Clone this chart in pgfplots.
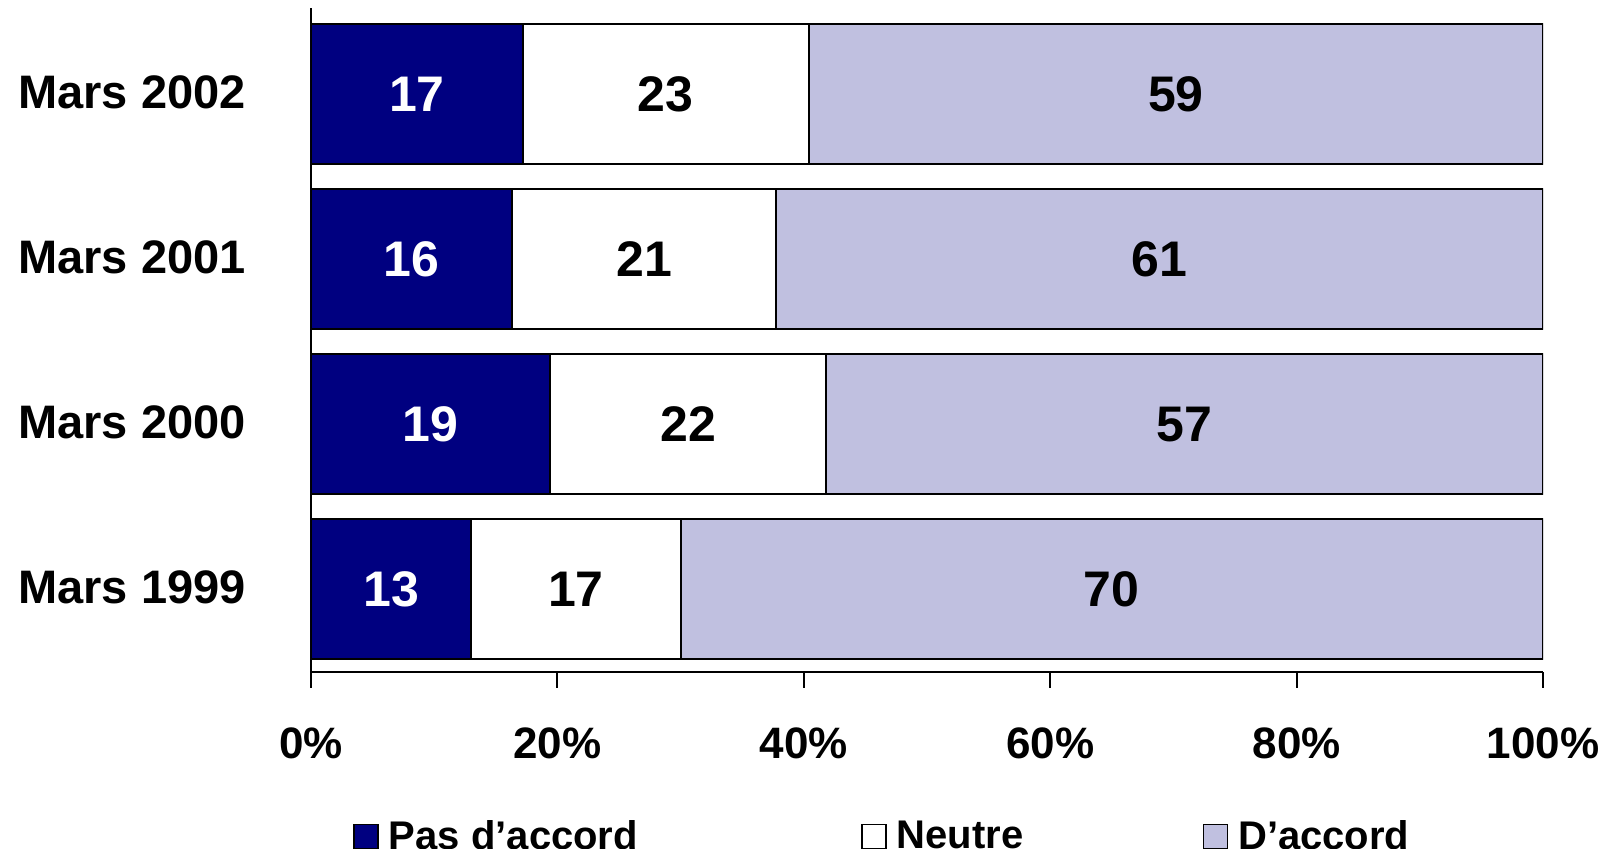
\documentclass[border=0pt]{standalone}
\usepackage{pgfplots}
\pgfplotsset{compat=1.18}
\usepackage{fontspec}
\setmainfont{Liberation Sans}
\definecolor{navybar}{RGB}{0,0,128}
\definecolor{lav}{RGB}{192,192,224}
\begin{document}
\begin{tikzpicture}
\begin{axis}[
  name=ax,
  scale only axis,
  width=616pt, height=332pt,
  xbar stacked,
  bar width=70pt,
  xmin=0, xmax=100,
  ymin=-0.5, ymax=3.52,
  axis x line*=bottom,
  axis y line*=left,
  axis line style={line width=1pt},
  xtick={0,20,40,60,80,100},
  xticklabel={\pgfmathprintnumber{\tick}\%},
  /pgf/number format/assume math mode=true,
  xticklabel style={font=\fontsize{22}{26}\selectfont\bfseries, yshift=-16.5pt},
  xtick style={black, line width=1pt},
  tick align=outside,
  major tick length=8pt,
  ytick={0,1,2,3},
  yticklabels={Mars 1999, Mars 2000, Mars 2001, Mars 2002},
  ytick style={draw=none},
  yticklabel style={font=\fontsize{23.5}{28}\selectfont\bfseries, anchor=center, xshift=-81.5pt, yshift=1pt},
  legend columns=3,
  legend style={draw=none, fill=none, at={(0,0)}, anchor=north west, xshift=18pt, yshift=-70pt,
    font=\fontsize{20}{24}\selectfont\bfseries,
    /tikz/every even column/.append style={column sep=0pt}},
]
\addplot[fill=navybar, draw=black, line width=1pt,
  legend image code/.code={\draw[fill=navybar, draw=black, line width=0.8pt] (0pt,-6pt) rectangle (12pt,6pt);}]
  coordinates {(13,0) (19.39,1) (16.33,2) (17.17,3)};
\addplot[fill=white, draw=black, line width=1pt,
  legend image code/.code={\draw[fill=white, draw=black, line width=0.8pt] (0pt,-6pt) rectangle (12pt,6pt);}]
  coordinates {(17,0) (22.45,1) (21.43,2) (23.23,3)};
\addplot[fill=lav, draw=black, line width=1pt,
  legend image code/.code={\draw[fill=lav, draw=black, line width=0.8pt] (0pt,-6pt) rectangle (12pt,6pt);}]
  coordinates {(70,0) (58.16,1) (62.24,2) (59.60,3)};
\legend{\hspace{3pt}\makebox[234pt][l]{Pas d’accord}, \hspace{3pt}\makebox[151pt][l]{Neutre}, \hspace{3pt}D’accord}
\end{axis}
\begin{axis}[
  scale only axis,
  width=616pt, height=332pt,
  xmin=0, xmax=100,
  ymin=-0.5, ymax=3.52,
  hide axis,
  nodes near coords,
  point meta=explicit symbolic,
  every node near coord/.append style={anchor=center, font=\fontsize{25}{30}\selectfont\bfseries},
]
\addplot[draw=none, mark=none, nodes near coords style={text=white}]
  coordinates {(6.5,0) [13] (9.69,1) [19] (8.16,2) [16] (8.59,3) [17]};
\addplot[draw=none, mark=none, nodes near coords style={text=black}]
  coordinates {(21.5,0) [17] (30.61,1) [22] (27.04,2) [21] (28.79,3) [23]};
\addplot[draw=none, mark=none, nodes near coords style={text=black}]
  coordinates {(65,0) [70] (70.92,1) [57] (68.88,2) [61] (70.20,3) [59]};
\end{axis}
\pgfresetboundingbox
\useasboundingbox ([xshift=-155.5pt,yshift=-88.5pt]ax.south west) rectangle ([xshift=37pt,yshift=4pt]ax.north east);
\end{tikzpicture}
\end{document}
